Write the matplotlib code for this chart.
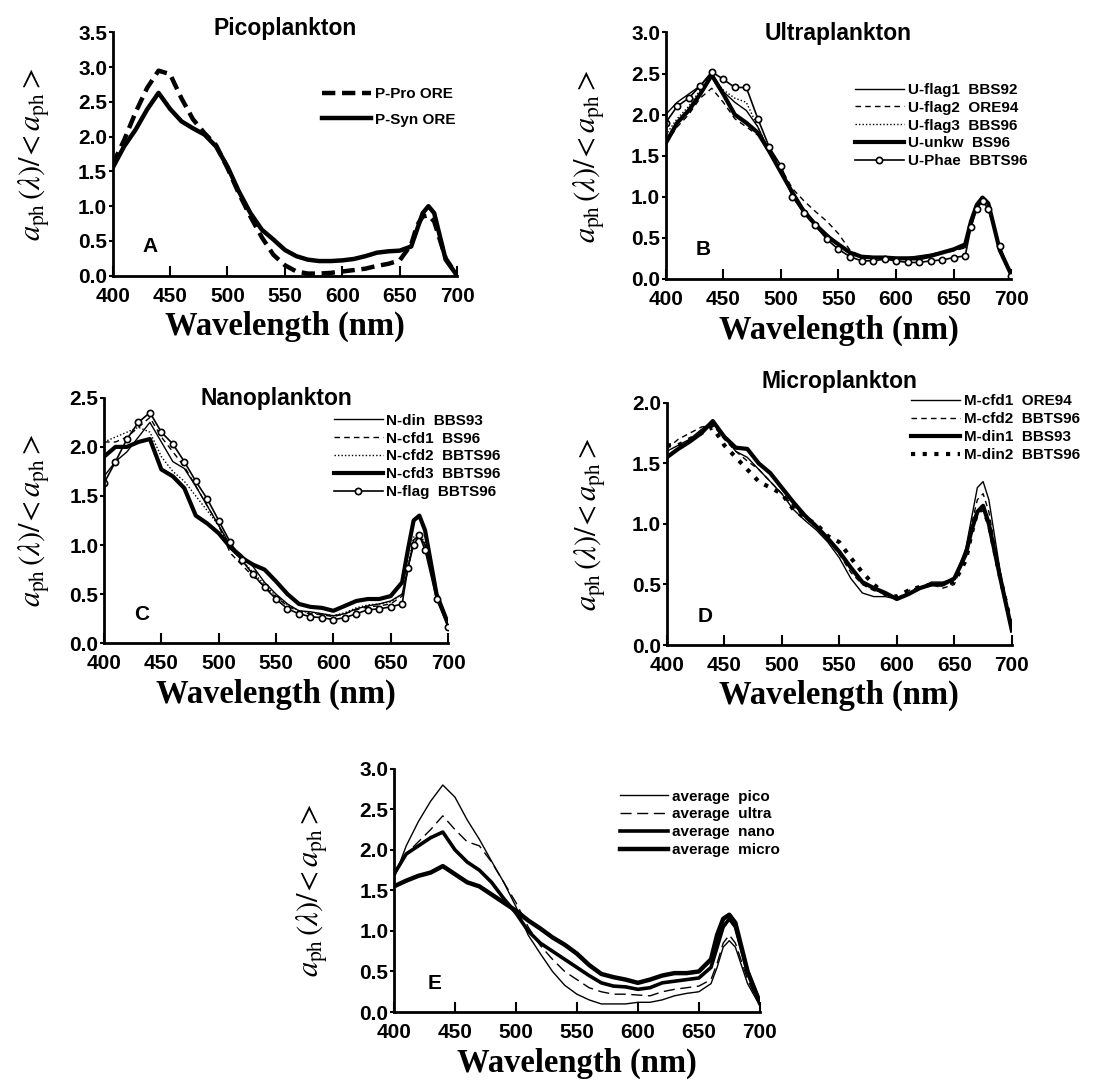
import matplotlib
matplotlib.use("Agg")
import matplotlib.pyplot as plt
import numpy as np

plt.rcParams['font.family'] = ['Liberation Sans', 'DejaVu Sans']
plt.rcParams['mathtext.fontset'] = 'stix'

# wavelength grid (nm) shared by all curves
wl = [400, 410, 420, 430, 440, 450, 460, 470, 480, 490, 500, 510, 520, 530, 540,
      550, 560, 570, 580, 590, 600, 610, 620, 630, 640, 650, 660, 665, 670, 675,
      680, 690, 700]

# A - picoplankton
p_pro = [1.60, 1.95, 2.35, 2.70, 2.95, 2.90, 2.55, 2.25, 2.05, 1.88, 1.55, 1.18, 0.85, 0.55, 0.30,
         0.15, 0.06, 0.03, 0.03, 0.04, 0.06, 0.08, 0.10, 0.14, 0.17, 0.22, 0.45, 0.72, 0.85, 0.87,
         0.78, 0.25, 0.00]
p_syn = [1.55, 1.86, 2.10, 2.39, 2.63, 2.40, 2.22, 2.12, 2.03, 1.86, 1.57, 1.21, 0.90, 0.66, 0.52,
         0.37, 0.28, 0.23, 0.21, 0.21, 0.22, 0.24, 0.28, 0.33, 0.35, 0.36, 0.42, 0.66, 0.90, 1.00,
         0.90, 0.23, 0.00]

# B - ultraplankton
u_flag1 = [2.00, 2.15, 2.25, 2.35, 2.50, 2.28, 2.15, 2.05, 1.85, 1.55, 1.30, 1.05, 0.85, 0.68, 0.55,
           0.42, 0.33, 0.28, 0.27, 0.27, 0.26, 0.26, 0.28, 0.30, 0.33, 0.36, 0.38, 0.65, 0.90, 0.98,
           0.90, 0.35, 0.05]
u_flag2 = [1.65, 1.85, 2.00, 2.20, 2.32, 2.15, 1.95, 1.85, 1.75, 1.60, 1.35, 1.10, 0.95, 0.82, 0.70,
           0.55, 0.35, 0.27, 0.25, 0.25, 0.24, 0.24, 0.26, 0.28, 0.31, 0.34, 0.38, 0.62, 0.88, 0.96,
           0.88, 0.33, 0.05]
u_flag3 = [1.75, 1.95, 2.10, 2.30, 2.45, 2.30, 2.20, 2.15, 1.85, 1.55, 1.30, 1.05, 0.83, 0.66, 0.52,
           0.40, 0.31, 0.27, 0.26, 0.26, 0.25, 0.25, 0.27, 0.29, 0.32, 0.35, 0.40, 0.65, 0.90, 0.98,
           0.90, 0.34, 0.05]
u_unkw = [1.65, 1.90, 2.05, 2.25, 2.48, 2.25, 2.00, 1.90, 1.78, 1.55, 1.30, 1.05, 0.82, 0.66, 0.52,
          0.42, 0.32, 0.27, 0.26, 0.26, 0.25, 0.25, 0.25, 0.28, 0.32, 0.36, 0.42, 0.70, 0.90, 0.99,
          0.92, 0.35, 0.05]
u_phae = [1.90, 2.10, 2.20, 2.35, 2.52, 2.43, 2.33, 2.33, 1.95, 1.60, 1.38, 1.00, 0.80, 0.65, 0.48,
          0.36, 0.27, 0.22, 0.22, 0.24, 0.22, 0.20, 0.20, 0.22, 0.23, 0.26, 0.28, 0.63, 0.85, 0.95,
          0.85, 0.40, 0.03]

# C - nanoplankton
n_din = [1.70, 1.85, 1.95, 2.10, 2.25, 2.05, 1.85, 1.78, 1.60, 1.40, 1.20, 1.00, 0.90, 0.78, 0.62,
         0.50, 0.40, 0.33, 0.32, 0.30, 0.28, 0.30, 0.35, 0.38, 0.40, 0.43, 0.50, 0.75, 1.05, 1.10,
         1.00, 0.50, 0.18]
n_cfd1 = [2.05, 2.05, 2.10, 2.20, 2.30, 2.10, 1.95, 1.80, 1.60, 1.40, 1.20, 0.92, 0.80, 0.68, 0.58,
          0.47, 0.38, 0.32, 0.30, 0.29, 0.27, 0.30, 0.34, 0.37, 0.38, 0.40, 0.48, 0.75, 1.05, 1.10,
          1.00, 0.50, 0.18]
n_cfd2 = [2.05, 2.10, 2.15, 2.20, 2.15, 1.90, 1.75, 1.65, 1.50, 1.35, 1.20, 0.97, 0.85, 0.72, 0.60,
          0.48, 0.39, 0.33, 0.31, 0.30, 0.28, 0.31, 0.36, 0.39, 0.40, 0.42, 0.50, 0.78, 1.08, 1.12,
          1.02, 0.52, 0.18]
n_cfd3 = [1.90, 2.00, 2.00, 2.05, 2.08, 1.77, 1.70, 1.58, 1.30, 1.22, 1.12, 0.98, 0.87, 0.80, 0.75,
          0.63, 0.50, 0.40, 0.37, 0.36, 0.33, 0.38, 0.43, 0.45, 0.45, 0.48, 0.62, 0.95, 1.25, 1.30,
          1.15, 0.50, 0.20]
n_flag = [1.63, 1.85, 2.08, 2.25, 2.35, 2.15, 2.03, 1.85, 1.65, 1.47, 1.25, 1.03, 0.85, 0.70, 0.57,
          0.45, 0.35, 0.30, 0.27, 0.26, 0.24, 0.26, 0.30, 0.34, 0.35, 0.37, 0.40, 0.77, 1.00, 1.10,
          0.95, 0.45, 0.17]

# D - microplankton
m_cfd1 = [1.60, 1.65, 1.70, 1.78, 1.85, 1.72, 1.60, 1.55, 1.45, 1.35, 1.25, 1.12, 1.03, 0.95, 0.85,
          0.72, 0.55, 0.43, 0.40, 0.40, 0.38, 0.42, 0.47, 0.52, 0.52, 0.55, 0.80, 1.05, 1.30, 1.35,
          1.20, 0.60, 0.12]
m_cfd2 = [1.62, 1.70, 1.75, 1.80, 1.82, 1.70, 1.60, 1.52, 1.45, 1.35, 1.25, 1.15, 1.05, 0.97, 0.87,
          0.75, 0.60, 0.50, 0.45, 0.42, 0.38, 0.45, 0.48, 0.50, 0.47, 0.50, 0.75, 1.00, 1.20, 1.25,
          1.10, 0.55, 0.12]
m_din1 = [1.55, 1.62, 1.68, 1.75, 1.85, 1.72, 1.63, 1.62, 1.50, 1.42, 1.30, 1.18, 1.07, 0.98, 0.88,
          0.77, 0.64, 0.52, 0.47, 0.43, 0.38, 0.42, 0.47, 0.50, 0.50, 0.55, 0.75, 0.95, 1.10, 1.15,
          1.00, 0.55, 0.12]
m_din2 = [1.65, 1.65, 1.70, 1.75, 1.80, 1.65, 1.55, 1.45, 1.35, 1.30, 1.25, 1.12, 1.05, 1.00, 0.90,
          0.85, 0.72, 0.60, 0.50, 0.42, 0.40, 0.45, 0.48, 0.50, 0.50, 0.52, 0.70, 0.92, 1.10, 1.12,
          1.00, 0.55, 0.15]

# E - averages
avg_pico = [1.65, 2.05, 2.35, 2.60, 2.80, 2.65, 2.37, 2.13, 1.86, 1.60, 1.30, 0.95, 0.72, 0.50, 0.33,
            0.22, 0.15, 0.10, 0.10, 0.10, 0.12, 0.12, 0.15, 0.20, 0.23, 0.25, 0.35, 0.55, 0.80, 0.88,
            0.80, 0.35, 0.08]
avg_ultra = [1.70, 1.95, 2.10, 2.25, 2.42, 2.25, 2.10, 2.05, 1.85, 1.60, 1.35, 1.05, 0.82, 0.65, 0.50,
             0.40, 0.30, 0.25, 0.22, 0.22, 0.21, 0.20, 0.25, 0.28, 0.30, 0.32, 0.40, 0.60, 0.85, 0.95,
             0.85, 0.40, 0.08]
avg_nano = [1.70, 1.95, 2.05, 2.15, 2.22, 2.00, 1.85, 1.75, 1.60, 1.40, 1.22, 1.00, 0.85, 0.75, 0.65,
            0.55, 0.45, 0.36, 0.32, 0.31, 0.28, 0.30, 0.36, 0.38, 0.40, 0.42, 0.55, 0.80, 1.05, 1.15,
            1.05, 0.50, 0.12]
avg_micro = [1.55, 1.62, 1.68, 1.72, 1.80, 1.70, 1.60, 1.55, 1.45, 1.35, 1.25, 1.13, 1.03, 0.92, 0.83,
             0.72, 0.58, 0.47, 0.43, 0.40, 0.36, 0.40, 0.45, 0.48, 0.48, 0.50, 0.65, 0.95, 1.15, 1.20,
             1.10, 0.50, 0.12]

YLAB = r'$a_{\mathrm{ph}}\,(\lambda)/\!<a_{\mathrm{ph}}>$'

fig = plt.figure(figsize=(11.15, 10.81), dpi=100)


def make_panel(rect, ymax, title, letter, title_y, ylab_x):
    ax = fig.add_axes(rect)
    ax.set_xlim(400, 700)
    ax.set_ylim(0, ymax)
    ax.set_xticks(np.arange(400, 701, 50))
    ax.set_yticks(np.arange(0, ymax + 0.01, 0.5))
    ax.set_yticklabels([f'{v:.1f}' for v in np.arange(0, ymax + 0.01, 0.5)])
    for s in ['top', 'right']:
        ax.spines[s].set_visible(False)
    for s in ['left', 'bottom']:
        ax.spines[s].set_linewidth(2.0)
    ax.tick_params(axis='x', direction='in', length=7, width=1.5, pad=8, labelsize=15)
    ax.tick_params(axis='y', direction='out', length=3, width=1.5, pad=1, labelsize=15)
    for lab in ax.get_xticklabels() + ax.get_yticklabels():
        lab.set_fontweight('bold')
    ax.set_xlabel('Wavelength (nm)', family='Liberation Serif', fontweight='bold', fontsize=23.5)
    ax.xaxis.set_label_coords(0.5, -0.145)
    ax.set_ylabel(YLAB, fontsize=22)
    ax.yaxis.set_label_coords(ylab_x, 0.5)
    if title:
        ax.set_title(title, fontsize=16.5, fontweight='bold', y=title_y, pad=0)
    ax.text(0.11, 0.08, letter, transform=ax.transAxes, fontsize=15, fontweight='bold',
            ha='center', va='bottom')
    return ax


def legend(ax, x, y, spacing=0.25):
    ax.legend(loc='upper left', bbox_to_anchor=(x, y), frameon=False, handlelength=3.2,
              handletextpad=0.25, labelspacing=spacing, borderaxespad=0,
              prop={'weight': 'bold', 'size': 11})


# A
axA = make_panel([0.101, 0.745, 0.309, 0.225], 3.5, 'Picoplankton', 'A', 0.99, -0.175)
axA.plot(wl, p_pro, color='k', lw=3.2, ls=(0, (3, 1.5)), label='P-Pro ORE')
axA.plot(wl, p_syn, color='k', lw=3.2, label='P-Syn ORE')
legend(axA, 0.59, 0.80, spacing=0.75)

# B
axB = make_panel([0.597, 0.742, 0.310, 0.228], 3.0, 'Ultraplankton', 'B', 0.97, -0.17)
axB.plot(wl, u_flag1, color='k', lw=1.0, label='U-flag1  BBS92')
axB.plot(wl, u_flag2, color='k', lw=1.0, ls=(0, (4, 3)), label='U-flag2  ORE94')
axB.plot(wl, u_flag3, color='k', lw=1.0, ls=(0, (1, 1.5)), label='U-flag3  BBS96')
axB.plot(wl, u_unkw, color='k', lw=3.0, label='U-unkw  BS96')
axB.plot(wl, u_phae, color='k', lw=1.2, marker='o', ms=4.5, mfc='white', mew=1.2,
         label='U-Phae  BBTS96')
legend(axB, 0.53, 0.82)

# C
axC = make_panel([0.0933, 0.405, 0.3085, 0.227], 2.5, 'Nanoplankton', 'C', 0.97, -0.15)
axC.plot(wl, n_din, color='k', lw=1.0, label='N-din  BBS93')
axC.plot(wl, n_cfd1, color='k', lw=1.0, ls=(0, (4, 3)), label='N-cfd1  BS96')
axC.plot(wl, n_cfd2, color='k', lw=1.0, ls=(0, (1, 1.5)), label='N-cfd2  BBTS96')
axC.plot(wl, n_cfd3, color='k', lw=3.0, label='N-cfd3  BBTS96')
axC.plot(wl, n_flag, color='k', lw=1.2, marker='o', ms=4.5, mfc='white', mew=1.2,
         label='N-flag  BBTS96')
legend(axC, 0.65, 0.96)

# D
axD = make_panel([0.598, 0.4033, 0.3095, 0.224], 2.0, 'Microplankton', 'D', 1.06, -0.17)
axD.plot(wl, m_cfd1, color='k', lw=1.0, label='M-cfd1  ORE94')
axD.plot(wl, m_cfd2, color='k', lw=1.0, ls=(0, (4, 3)), label='M-cfd2  BBTS96')
axD.plot(wl, m_din1, color='k', lw=3.0, label='M-din1  BBS93')
axD.plot(wl, m_din2, color='k', lw=3.0, ls=(0, (1, 1.8)), label='M-din2  BBTS96')
legend(axD, 0.69, 1.06)

# E
axE = make_panel([0.3534, 0.0638, 0.328, 0.225], 3.0, '', 'E', 1.0, -0.175)
axE.plot(wl, avg_pico, color='k', lw=1.0, label='average  pico')
axE.plot(wl, avg_ultra, color='k', lw=1.0, ls=(0, (8, 4)), label='average  ultra')
axE.plot(wl, avg_nano, color='k', lw=2.6, label='average  nano')
axE.plot(wl, avg_micro, color='k', lw=3.2, label='average  micro')
legend(axE, 0.60, 0.94)

fig.savefig('out.png', dpi=100)
